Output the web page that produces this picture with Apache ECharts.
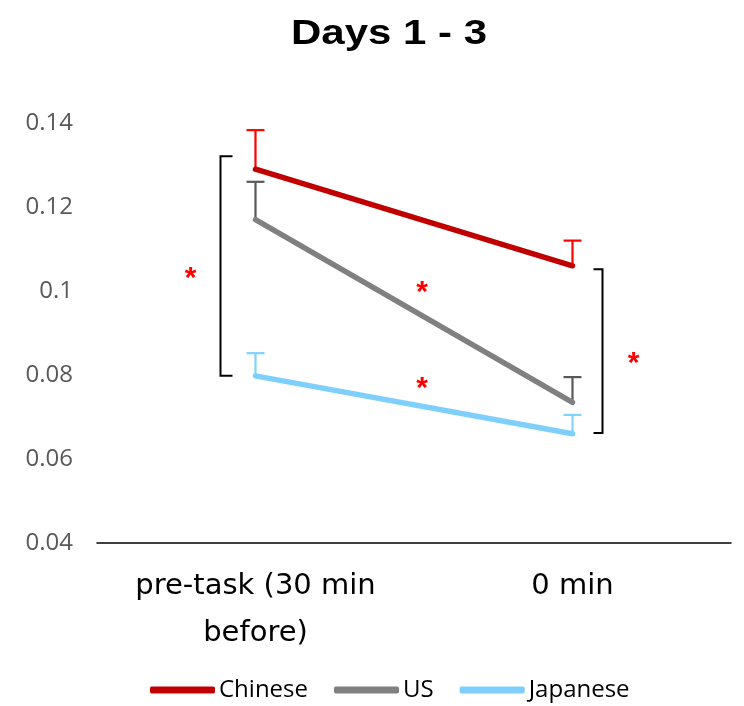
<!DOCTYPE html>
<html><head><meta charset="utf-8">
<script src="https://cdn.jsdelivr.net/npm/echarts@6/dist/echarts.min.js"></script>
<style>html,body{margin:0;padding:0;background:#fff}#chart{width:744px;height:706px}</style>
</head><body><div id="chart"></div>
<script>
// Time points and group means
const categories = ['pre-task (30 min\nbefore)', '0 min'];
const seriesNames = ['Chinese', 'US', 'Japanese'];
const chinese = [0.129, 0.106];
const us = [0.117, 0.0735];
const japanese = [0.0798, 0.066];
// Upper ends of the error bars
const chineseUpper = [0.1383, 0.112];
const usUpper = [0.126, 0.0795];
const japaneseUpper = [0.0852, 0.0705];
// Y axis ticks
const yTicks = [0.04, 0.06, 0.08, 0.1, 0.12, 0.14];
// Significance brackets: [category index, low end, high end]
const brackets = [[0, 0.0798, 0.1321], [1, 0.0662, 0.1052]];
// Significance stars: [position along categories, value]
const stars = [[0, 0.1043], [0.5, 0.101], [0.5, 0.0781], [1, 0.084]];

const lineColors = ['#c00000', '#808080', '#7fcffc'];
const capColors = ['#ff0000', '#595959', '#7fd3ff'];
const FONT = '"Open Sans", sans-serif';

const chart = echarts.init(document.getElementById('chart'), null, {renderer: 'canvas'});

function errorSeries(means, uppers, color) {
  return {
    type: 'custom',
    silent: true,
    z: 1,
    data: means.map((m, i) => [i, m, uppers[i]]),
    renderItem: function (params, api) {
      const p = api.coord([api.value(0), api.value(1)]);
      const t = api.coord([api.value(0), api.value(2)]);
      const half = 9;
      return {
        type: 'group',
        children: [
          {type: 'line', shape: {x1: p[0], y1: p[1], x2: t[0], y2: t[1]}, style: {stroke: color, lineWidth: 2.2}},
          {type: 'line', shape: {x1: t[0] - half, y1: t[1], x2: t[0] + half, y2: t[1]}, style: {stroke: color, lineWidth: 2.2}}
        ]
      };
    }
  };
}

function lineSeries(name, data, color) {
  return {
    name: name,
    type: 'line',
    data: data,
    z: 3,
    symbol: 'none',
    lineStyle: {color: color, width: 5.5, cap: 'round'},
    itemStyle: {color: color}
  };
}

// Bracket placement in pixels relative to the category centre
const bracketDx = [-35, 30];
const bracketTick = [12, -9];
const bracketSeries = {
  type: 'custom',
  silent: true,
  z: 2,
  data: brackets,
  renderItem: function (params, api) {
    const i = params.dataIndex;
    const lo = api.coord([api.value(0), api.value(1)]);
    const hi = api.coord([api.value(0), api.value(2)]);
    const x = lo[0] + bracketDx[i];
    const xt = x + bracketTick[i];
    return {
      type: 'polyline',
      shape: {points: [[xt, hi[1]], [x, hi[1]], [x, lo[1]], [xt, lo[1]]]},
      style: {stroke: '#000', lineWidth: 2, fill: null}
    };
  }
};

// Star placement in pixels relative to the interpolated category position
const starDx = [-65, 8, 8, 61];
const starSeries = {
  type: 'custom',
  silent: true,
  z: 4,
  data: stars,
  renderItem: function (params, api) {
    const i = params.dataIndex;
    const pos = api.value(0);
    const y = api.value(1);
    const a = api.coord([0, y]);
    const b = api.coord([1, y]);
    const x = a[0] + (b[0] - a[0]) * pos + starDx[i];
    return {
      type: 'text',
      x: x, y: a[1] + 6,
      style: {text: '*', fill: '#ff0000', font: 'bold 30px "Liberation Sans", sans-serif', align: 'center', verticalAlign: 'middle'}
    };
  }
};

const option = {
  animation: false,
  backgroundColor: '#fff',
  graphic: [{
    type: 'text',
    x: 389,
    y: 34,
    scaleX: 1.2,
    style: {text: 'Days 1 - 3', font: 'bold 35px "Liberation Sans", Arial, sans-serif', fill: '#000', align: 'center', verticalAlign: 'middle'}
  }],
  grid: {left: 97, right: 13, top: 123, bottom: 163, containLabel: false},
  legend: {
    top: 673,
    left: 145,
    data: seriesNames,
    itemWidth: 65,
    itemHeight: 7,
    itemGap: 26,
    icon: 'roundRect',
    textStyle: {fontFamily: FONT, fontSize: 24, color: '#000', padding: [0, 0, 0, -1]}
  },
  xAxis: {
    type: 'category',
    data: categories,
    axisLine: {lineStyle: {color: '#000', width: 1.5}},
    axisTick: {show: false},
    axisLabel: {fontFamily: '"DejaVu Sans", sans-serif', fontSize: 29, color: '#000', margin: 20, lineHeight: 47, interval: 0}
  },
  yAxis: {
    type: 'value',
    min: yTicks[0],
    max: yTicks[yTicks.length - 1],
    interval: 0.02,
    axisLine: {show: false},
    axisTick: {show: false},
    splitLine: {show: false},
    axisLabel: {fontFamily: FONT, fontSize: 24, color: '#595959', margin: 24}
  },
  series: [
    lineSeries(seriesNames[0], chinese, lineColors[0]),
    lineSeries(seriesNames[1], us, lineColors[1]),
    lineSeries(seriesNames[2], japanese, lineColors[2]),
    errorSeries(chinese, chineseUpper, capColors[0]),
    errorSeries(us, usUpper, capColors[1]),
    errorSeries(japanese, japaneseUpper, capColors[2]),
    bracketSeries,
    starSeries
  ]
};
chart.setOption(option);
</script>
</body></html>
